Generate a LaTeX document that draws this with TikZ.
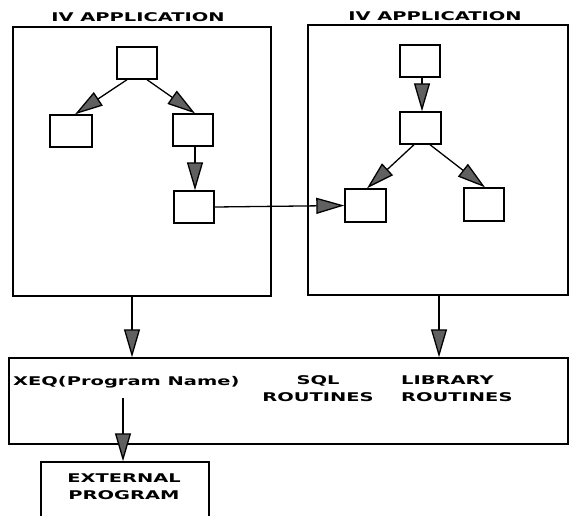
\documentclass[tikz,border=0pt]{standalone}
\usepackage{fontspec}
\newfontfamily\widefont[FakeStretch=1.62]{DejaVu Sans Bold}
\usetikzlibrary{arrows.meta}
\begin{document}
\begin{tikzpicture}[x=1pt,y=-1pt,
  frame/.style={draw,line width=1.5pt,inner sep=0pt},
  box/.style={draw,line width=1.4pt,inner sep=0pt,minimum width=40pt,minimum height=32pt},
  lbl/.style={font=\widefont\fontsize{12}{17}\selectfont,inner sep=0pt},
  arr/.style={line width=1.3pt,-{Triangle[length=28pt,width=16pt,fill=gray!75!black]}}]
\clip (0,0) rectangle (569,515);
\fill[white] (0,0) rectangle (569,515);
% frames
\node[frame,minimum width=258pt,minimum height=269pt] (L) at (142,161.5) {};
\node[frame,minimum width=260pt,minimum height=270pt] (R) at (438,160) {};
\node[lbl] (Lt) at (138,17) {IV APPLICATION};
\node[lbl] (Rt) at (435,16) {IV APPLICATION};
% left application
\node[box] (a1) at (137,63) {};
\node[box,minimum width=42pt] (a2) at (71,131) {};
\node[box] (a3) at (193,130) {};
\node[box] (a4) at (194,207) {};
% right application
\node[box] (b1) at (420,61) {};
\node[box,minimum width=41pt] (b2) at (420.5,128) {};
\node[box,minimum width=41pt,minimum height=33pt] (b3) at (365.5,205.5) {};
\node[box,minimum height=33pt] (b4) at (484,204.5) {};
% arrows inside
\draw[arr] ([xshift=-10pt]a1.south) -- ([xshift=4pt]a2.north);
\draw[arr] ([xshift=10pt]a1.south) -- ([xshift=2pt]a3.north);
\draw[arr] ([xshift=2pt]a3.south) -- ([xshift=1pt]a4.north);
\draw[arr] (a4.east) -- (b3.west);
\draw[arr] ([xshift=2pt]b1.south) -- ([xshift=1.5pt]b2.north);
\draw[arr] ([xshift=-6.5pt]b2.south) -- ([xshift=1.5pt]b3.north);
\draw[arr] ([xshift=9.5pt]b2.south) -- ([xshift=1pt]b4.north);
% bar
\node[frame,minimum width=559pt,minimum height=86pt] (bar) at (288.5,401) {};
\node[lbl,anchor=west] (xeq) at (13,382) {XEQ(Program Name)};
\node[lbl,align=center] (sql) at (318,389) {SQL\\ROUTINES};
\node[lbl,align=left,anchor=west] (lib) at (401,389) {LIBRARY\\ROUTINES};
\draw[arr] ([xshift=-10pt]L.south) -- ([xshift=-10pt]L.south |- bar.north);
\draw[arr] ([xshift=1pt]R.south) -- ([xshift=1pt]R.south |- bar.north);
% external program
\node[frame,minimum width=168pt,minimum height=70pt] (ext) at (125,497) {};
\node[lbl,align=center] (extt) at (124,487) {EXTERNAL\\PROGRAM};
\coordinate (xq) at (123,398);
\draw[arr] (xq) -- (xq |- ext.north);
\end{tikzpicture}
\end{document}
